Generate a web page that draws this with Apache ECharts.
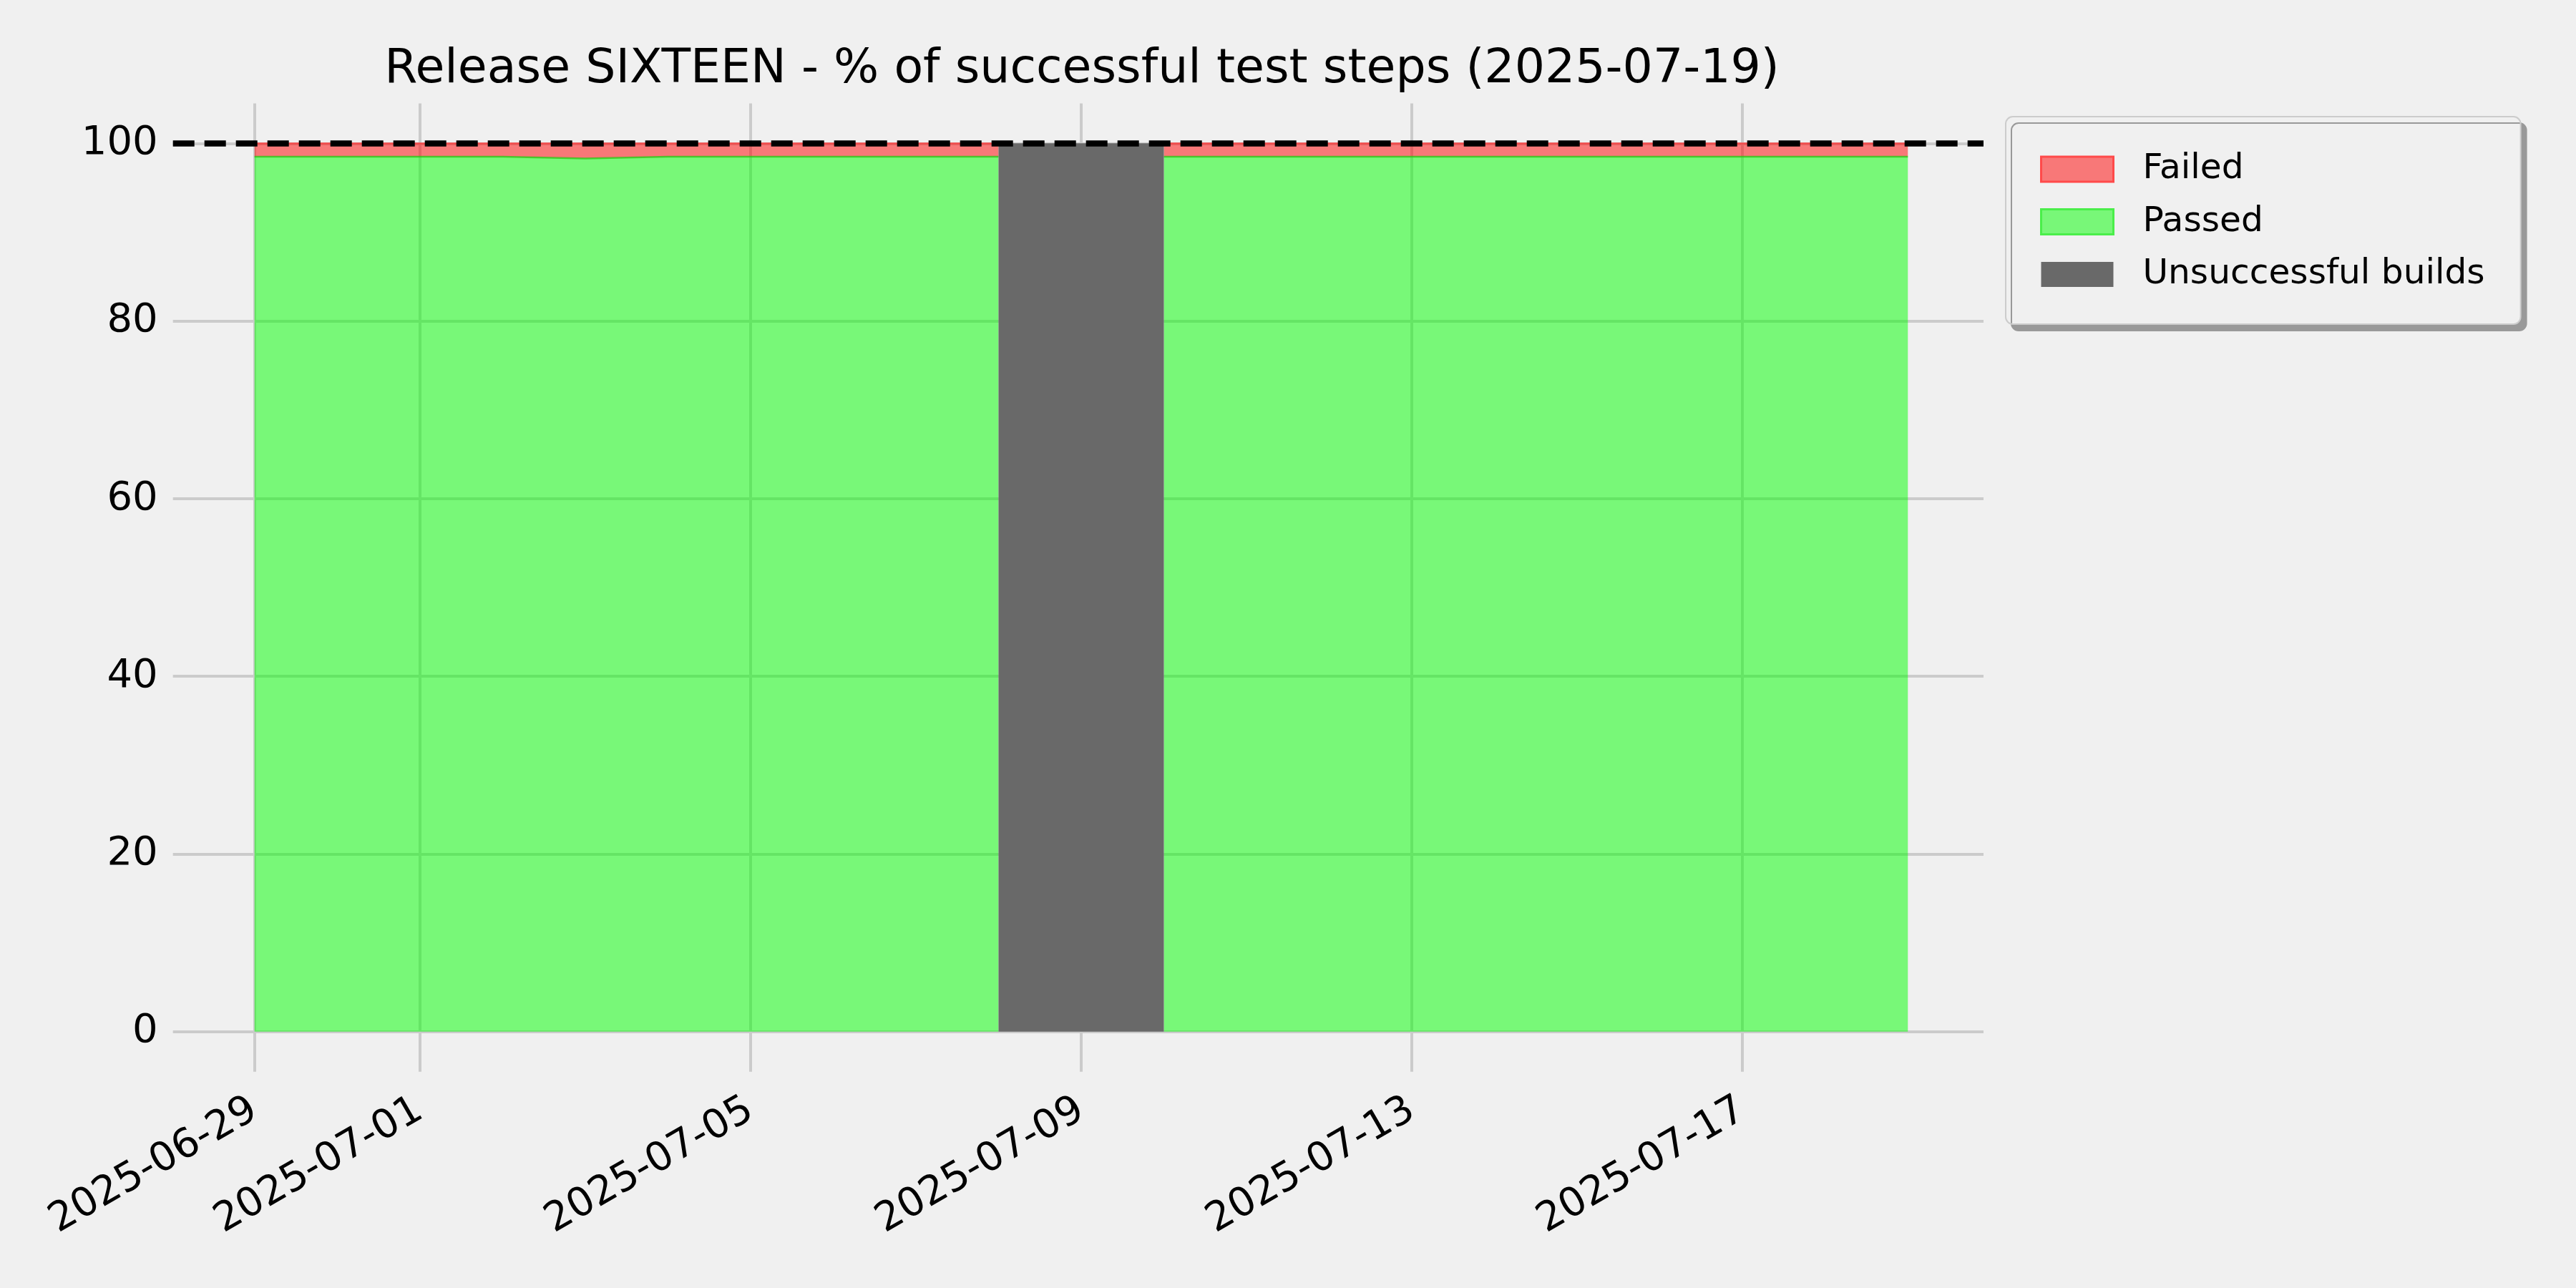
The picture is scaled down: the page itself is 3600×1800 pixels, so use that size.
<!DOCTYPE html>
<html>
<head>
<meta charset="utf-8">
<script src="https://cdn.jsdelivr.net/npm/echarts@6/dist/echarts.min.js"></script>
<style>
  html, body { margin: 0; padding: 0; background: #f0f0f0; }
  #chart { width: 3600px; height: 1800px; }
</style>
</head>
<body>
<div id="chart"></div>
<script>
// ---- data ----
const dates = ['2025-06-29','2025-06-30','2025-07-01','2025-07-02','2025-07-03','2025-07-04','2025-07-05',
               '2025-07-06','2025-07-07','2025-07-08','2025-07-09','2025-07-10','2025-07-11','2025-07-12',
               '2025-07-13','2025-07-14','2025-07-15','2025-07-16','2025-07-17','2025-07-18','2025-07-19'];
const passed = [98.5, 98.5, 98.5, 98.5, 98.3, 98.5, 98.5,
                98.5, 98.5, 98.5, null, 98.5, 98.5, 98.5,
                98.5, 98.5, 98.5, 98.5, 98.5, 98.5, 98.5];
const failed = [1.5, 1.5, 1.5, 1.5, 1.7, 1.5, 1.5,
                1.5, 1.5, 1.5, null, 1.5, 1.5, 1.5,
                1.5, 1.5, 1.5, 1.5, 1.5, 1.5, 1.5];
const unsuccessfulStart = ['2025-07-08'];
const unsuccessfulEnd = ['2025-07-10'];
const unsuccessfulTop = [100];
const targetLine = 100;
const xLimits = ['2025-06-28 00:19', '2025-07-19 21:58'];
const xTicks = ['2025-06-29','2025-07-01','2025-07-05','2025-07-09','2025-07-13','2025-07-17'];
const yLimits = [-4.5, 104.5];
const yTicks = [0, 20, 40, 60, 80, 100];
const titleText = 'Release SIXTEEN - % of successful test steps (2025-07-19)';

// ---- chart ----
const FONT = 'DejaVu Sans';
const chart = echarts.init(document.getElementById('chart'), null, { renderer: 'canvas' });
const toTime = (s) => echarts.time.parse(s).getTime();
const xTickTimes = xTicks.map(toTime);
const pad2 = (n) => (n < 10 ? '0' : '') + n;
const fmtDate = (v) => { const d = new Date(v); return d.getFullYear() + '-' + pad2(d.getMonth() + 1) + '-' + pad2(d.getDate()); };
// percentage first so the stack is computed on the percentage dimension
const lineDims = ['pct', 'date'];

const option = {
  backgroundColor: '#f0f0f0',
  animation: false,
  textStyle: { fontFamily: FONT },
  title: {
    text: titleText,
    left: 1507,
    top: 59,
    textAlign: 'center',
    textStyle: { fontFamily: FONT, fontSize: 66.5, fontWeight: 'normal', color: '#000' }
  },
  legend: {
    orient: 'vertical',
    left: 2803,
    top: 163,
    padding: [49, 50, 45, 48],
    itemWidth: 101,
    itemHeight: 35,
    itemGap: 24.5,
    symbolKeepAspect: false,
    backgroundColor: '#f0f0f0',
    borderColor: '#cccccc',
    borderWidth: 2,
    borderRadius: 10,
    shadowColor: '#999999',
    shadowBlur: 0,
    shadowOffsetX: 8,
    shadowOffsetY: 9,
    textStyle: { fontFamily: FONT, fontSize: 48.6, color: '#000', padding: [0, 0, 0, 36] },
    data: [
      { name: 'Failed', icon: 'rect', itemStyle: { color: '#f87878', borderColor: '#ff4a4a', borderWidth: 3 } },
      { name: 'Passed', icon: 'rect', itemStyle: { color: '#78f778', borderColor: '#4aee4a', borderWidth: 3 } },
      { name: 'Unsuccessful builds', icon: 'rect', itemStyle: { color: '#696969', borderWidth: 0 } }
    ]
  },
  grid: { left: 241.7, right: 828, top: 144.5, bottom: 302.3 },
  xAxis: {
    type: 'value',
    min: toTime(xLimits[0]), max: toTime(xLimits[1]),
    axisLine: { show: false },
    axisTick: { show: false, customValues: xTickTimes },
    axisLabel: {
      customValues: xTickTimes,
      formatter: fmtDate,
      rotate: 30, margin: 50, hideOverlap: false,
      fontFamily: FONT, fontSize: 56, color: '#000'
    },
    splitLine: { show: true, lineStyle: { color: '#cbcbcb', width: 4 } }
  },
  yAxis: {
    type: 'value', min: yLimits[0], max: yLimits[1],
    axisLine: { show: false },
    axisTick: { show: false, customValues: yTicks },
    axisLabel: {
      customValues: yTicks,
      margin: 21, padding: [8, 0, 0, 0],
      fontFamily: FONT, fontSize: 56, color: '#000'
    },
    splitLine: { show: true, lineStyle: { color: '#cbcbcb', width: 4 } }
  },
  series: [
    {
      name: 'Passed', type: 'line', stack: 'total',
      dimensions: lineDims,
      encode: { x: 1, y: 0 },
      data: dates.map((d, i) => [passed[i], toTime(d)]),
      showSymbol: false, symbol: 'none', connectNulls: false,
      lineStyle: { color: 'rgba(40,200,20,0.75)', width: 2.5 },
      itemStyle: { color: '#78f778' },
      areaStyle: { color: 'rgba(0,255,0,0.5)', opacity: 1, origin: 0 },
      z: 3,
      markLine: {
        silent: true, symbol: 'none', animation: false,
        label: { show: false },
        lineStyle: { color: '#000', width: 8.5, type: [30, 14], cap: 'butt' },
        data: [{ yAxis: targetLine }]
      }
    },
    {
      name: 'Failed', type: 'line', stack: 'total',
      dimensions: lineDims,
      encode: { x: 1, y: 0 },
      data: dates.map((d, i) => [failed[i], toTime(d)]),
      showSymbol: false, symbol: 'none', connectNulls: false,
      lineStyle: { color: 'rgba(255,40,40,0.6)', width: 2.5 },
      itemStyle: { color: '#f87878' },
      areaStyle: { color: 'rgba(255,0,0,0.5)', opacity: 1 },
      z: 3
    },
    {
      name: 'Unsuccessful builds', type: 'custom',
      dimensions: ['start', 'end', 'top'],
      encode: { x: [0, 1], y: 2 },
      data: unsuccessfulStart.map((s, i) => [toTime(s), toTime(unsuccessfulEnd[i]), unsuccessfulTop[i]]),
      itemStyle: { color: '#696969' },
      z: 4,
      renderItem: function (params, api) {
        const p0 = api.coord([api.value(0), 0]);
        const p1 = api.coord([api.value(1), api.value(2)]);
        return {
          type: 'rect',
          shape: { x: p0[0], y: p1[1], width: p1[0] - p0[0], height: p0[1] - p1[1] },
          style: { fill: '#696969' }
        };
      }
    }
  ]
};
chart.setOption(option);
</script>
</body>
</html>
